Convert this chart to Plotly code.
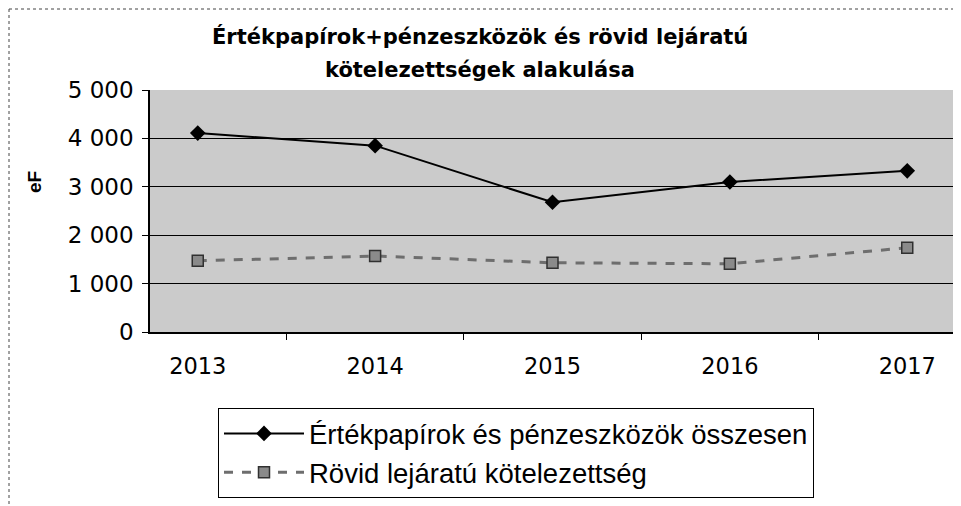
import plotly.graph_objects as go

years = ["2013", "2014", "2015", "2016", "2017"]
ertekpapir = [4110, 3850, 2680, 3100, 3330]
rovid = [1470, 1570, 1430, 1410, 1740]
series_names = ["Értékpapírok és pénzeszközök összesen", "Rövid lejáratú kötelezettség"]
y_ticks = [0, 1000, 2000, 3000, 4000, 5000]
y_tick_labels = ["0", "1 000", "2 000", "3 000", "4 000", "5 000"]
title_lines = ["Értékpapírok+pénzeszközök és rövid lejáratú", "kötelezettségek alakulása"]
y_title = "eF"

FONT = "Liberation Sans, Arial, sans-serif"
WIDEFONT = "DejaVu Sans, Liberation Sans, sans-serif"

fig = go.Figure()
fig.add_trace(go.Scatter(
    x=years, y=ertekpapir, name=series_names[0], mode="lines+markers", legendgroup="a",
    line=dict(color="black", width=2),
    marker=dict(symbol="diamond", size=12, color="black"),
))
fig.add_trace(go.Scatter(
    x=years, y=rovid, name=series_names[1], mode="lines+markers", legendgroup="b",
    line=dict(color="#6e6e6e", width=3, dash="dash"),
    marker=dict(symbol="square", size=11, color="#8a8a8a", line=dict(color="#303030", width=1.5)),
))

OFF = 8  # page body margin
W, H = 961 - OFF, 506 - OFF
L, R, T, B = 150 - OFF, 6, 90 - OFF, 174
pw = W - L - R
ph = H - T - B

def px_x(x):
    return (x - OFF - L) / pw

def px_y(y):
    return (H - B - (y - OFF)) / ph

annotations = [dict(
    text="<b>" + y_title + "</b>", textangle=-90, xref="paper", yref="paper",
    x=px_x(34), y=px_y(182), xanchor="center", yanchor="middle", showarrow=False,
    font=dict(size=19, family=FONT, color="black"),
)]
for line_text, yc in zip(title_lines, [37, 70]):
    annotations.append(dict(
        text="<b>" + line_text + "</b>", xref="paper", yref="paper",
        x=px_x(480), y=px_y(yc), xanchor="center", yanchor="middle", showarrow=False,
        font=dict(size=21, family=WIDEFONT, color="black"),
    ))

fig.update_layout(
    width=W, height=H,
    margin=dict(l=L, r=R, t=T, b=B, autoexpand=False),
    paper_bgcolor="white",
    plot_bgcolor="#cbcbcb",
    font=dict(family=FONT, color="black"),
    showlegend=True,
    legend=dict(
        x=px_x(218), y=px_y(408), xanchor="left", yanchor="top",
        bgcolor="white", bordercolor="black", borderwidth=1,
        font=dict(size=27.5, family=FONT, color="black"),
        tracegroupgap=0, itemwidth=80,
    ),
    xaxis=dict(
        type="category", showgrid=False, showline=True, linecolor="black", linewidth=1.5,
        ticks="outside", ticklen=6, tickcolor="black", tickson="boundaries",
        tickfont=dict(size=22.5, family=WIDEFONT, color="black"),
        ticklabelstandoff=13,
        mirror=False, zeroline=False,
    ),
    yaxis=dict(
        range=[0, 5000], tickvals=y_ticks, ticktext=y_tick_labels,
        showgrid=True, gridcolor="black", gridwidth=1,
        showline=True, linecolor="black", linewidth=1.5,
        ticks="outside", ticklen=6, tickcolor="black",
        tickfont=dict(size=23, family=WIDEFONT, color="black"),
        ticklabelstandoff=4,
        zeroline=False,
    ),
    annotations=annotations,
    shapes=[
        dict(type="line", xref="paper", yref="paper",
             x0=px_x(9), x1=px_x(961), y0=px_y(9), y1=px_y(9),
             line=dict(color="#444444", width=1, dash="dot")),
        dict(type="line", xref="paper", yref="paper",
             x0=px_x(9), x1=px_x(9), y0=px_y(9), y1=px_y(506),
             line=dict(color="#444444", width=1, dash="dot")),
        dict(type="line", xref="paper", yref="paper", x0=1, x1=1, y0=0, y1=1,
             line=dict(color="black", width=1.5)),
    ],
)

fig.write_html("out.html")
